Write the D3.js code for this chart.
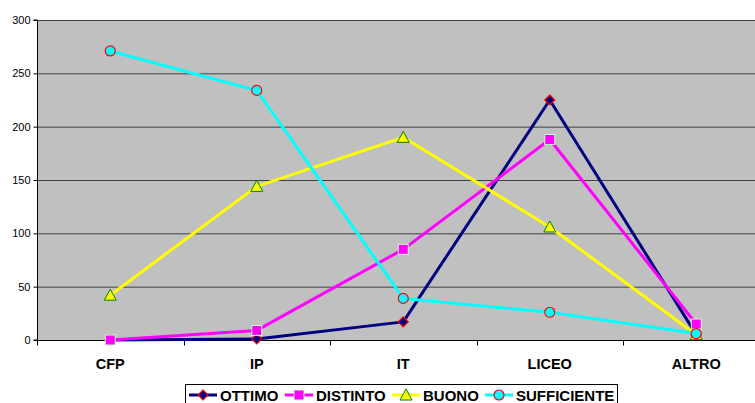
<!DOCTYPE html>
<html><head><meta charset="utf-8">
<script src="https://cdn.jsdelivr.net/npm/d3@7"></script>
<style>body{margin:0;background:#fff;}svg{display:block;font-family:"Liberation Sans",Arial,sans-serif;}</style>
</head><body><svg id="c" width="755" height="403"></svg>
<script>
const categories = ["CFP","IP","IT","LICEO","ALTRO"];
const ottimo = [0, 1, 17, 225, 5];
const distinto = [0, 9, 85, 188, 15];
const buono = [42, 144, 190, 106, 5];
const sufficiente = [271, 234, 39, 26, 6];
const yTicks = [0,50,100,150,200,250,300];
const seriesNames = ["OTTIMO","DISTINTO","BUONO","SUFFICIENTE"];

const series = [
  {name: seriesNames[0], values: ottimo, color: "#000080", fill: "#000080", stroke: "#ff0000", shape: "diamond"},
  {name: seriesNames[1], values: distinto, color: "#ff00ff", fill: "#ff00ff", stroke: "#ccffcc", shape: "square"},
  {name: seriesNames[2], values: buono, color: "#ffff00", fill: "#ffff00", stroke: "#008000", shape: "triangle"},
  {name: seriesNames[3], values: sufficiente, color: "#00ffff", fill: "#00ffff", stroke: "#ff0000", shape: "circle"}
];

const svg = d3.select("#c");
const pL = 37, pT = 20, pB = 340, pR = 769.5;
const x = d3.scaleBand().domain(categories).range([pL, pR]);
const y = d3.scaleLinear().domain([0,300]).range([pB, pT]);

svg.append("rect").attr("x", pL).attr("y", pT).attr("width", pR-pL).attr("height", pB-pT).attr("fill", "#c0c0c0");

// gridlines
svg.append("g").selectAll("line").data(yTicks.filter(d=>d>0)).join("line")
  .attr("x1", pL).attr("x2", pR).attr("y1", d=>y(d)+0.5).attr("y2", d=>y(d)+0.5)
  .attr("stroke", "#404040").attr("stroke-width", 1);

// y axis
const ya = svg.append("g").attr("transform", `translate(${pL+0.5},0)`)
  .call(d3.axisLeft(y).tickValues(yTicks).tickSize(4).tickPadding(3));
ya.select(".domain").attr("stroke", "#000").attr("d", `M-4,${pT}H0V${pB}H-4`);
ya.selectAll(".tick line").attr("stroke", "#000");
ya.selectAll(".tick text").attr("font-size", 11).attr("fill", "#000").attr("font-family", "'Liberation Sans',Arial,sans-serif");

// x axis
const xa = svg.append("g").attr("transform", `translate(0,${pB+0.5})`);
xa.append("line").attr("x1", pL).attr("x2", pR).attr("stroke", "#000");
const bounds = categories.map(c => x(c)).concat([pR]);
xa.selectAll("line.t").data(bounds).join("line").attr("class","t")
  .attr("x1", d=>Math.round(d)+0.5).attr("x2", d=>Math.round(d)+0.5).attr("y1", 0).attr("y2", 5).attr("stroke", "#000");
xa.selectAll("text").data(categories).join("text")
  .attr("x", d => x(d) + x.bandwidth()/2).attr("y", 28)
  .attr("text-anchor", "middle").attr("font-size", 14.5).attr("font-weight", "bold").text(d=>d);

const line = d3.line().x((d,i)=>x(categories[i]) + x.bandwidth()/2).y(d=>y(d));

function marker(g, shape, fill, stroke) {
  if (shape === "diamond") g.append("path").attr("d", "M0,-5L5,0L0,5L-5,0Z").attr("fill", fill).attr("stroke", stroke).attr("stroke-width", 1.2);
  else if (shape === "square") g.append("rect").attr("x",-5).attr("y",-5).attr("width",10).attr("height",10).attr("fill", fill).attr("stroke", stroke).attr("stroke-width", 1);
  else if (shape === "triangle") g.append("path").attr("d", "M0,-6L6,5L-6,5Z").attr("fill", fill).attr("stroke", stroke).attr("stroke-width", 1);
  else g.append("circle").attr("r", 5).attr("fill", fill).attr("stroke", stroke).attr("stroke-width", 1.2);
}

series.forEach(s => {
  svg.append("path").datum(s.values).attr("d", line).attr("fill","none").attr("stroke", s.color).attr("stroke-width", 3).attr("stroke-linejoin","round");
});
series.forEach(s => {
  s.values.forEach((v,i) => {
    const g = svg.append("g").attr("transform", `translate(${x(categories[i])+x.bandwidth()/2},${y(v)})`);
    marker(g, s.shape, s.fill, s.stroke);
  });
});

// legend
const lg = svg.append("g");
lg.append("rect").attr("x", 185.5).attr("y", 384.5).attr("width", 432).attr("height", 24).attr("fill", "#fff").attr("stroke", "#000");
const lx = [189, 285, 392, 485];
series.forEach((s,i) => {
  const g = lg.append("g").attr("transform", `translate(${lx[i]},395)`);
  g.append("line").attr("x1", 0).attr("x2", 28).attr("stroke", s.color).attr("stroke-width", 3);
  marker(g.append("g").attr("transform","translate(14,0)"), s.shape, s.fill, s.stroke);
  g.append("text").attr("x", 31).attr("y", 5.5).attr("font-size", 15).attr("font-weight","bold").text(s.name);
});
</script></body></html>
